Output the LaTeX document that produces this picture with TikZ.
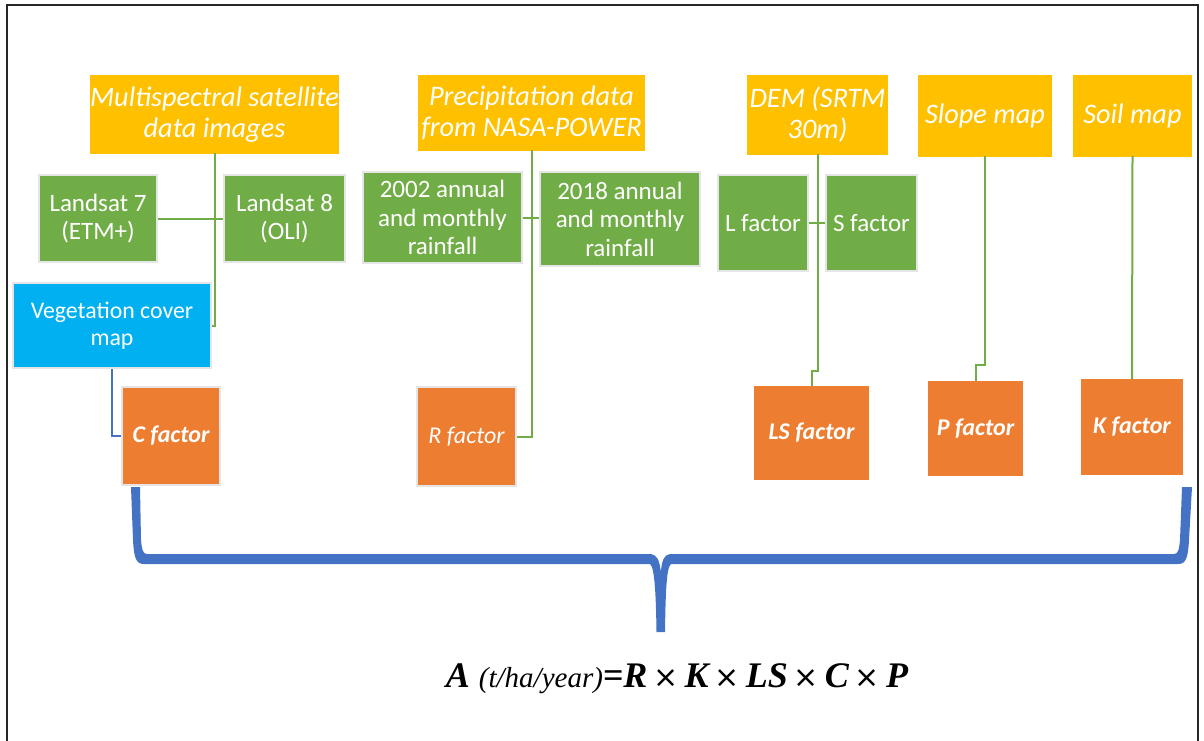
\documentclass[tikz,border=0pt]{standalone}
\usepackage{fontspec}
\setmainfont{Carlito}
\newfontfamily\eqfont{Liberation Serif}
\newfontfamily\tmsfont{DejaVu Sans}
\definecolor{hdr}{HTML}{FFC000}
\definecolor{grn}{HTML}{70AD47}
\definecolor{cyanb}{HTML}{00B0F0}
\definecolor{orf}{HTML}{ED7D31}
\definecolor{brc}{HTML}{4472C4}
\newcommand{\tms}{{\tmsfont\mdseries\upshape\fontsize{30}{30}\selectfont ×}}
\begin{document}
\begin{tikzpicture}[x=1pt,y=-1pt,
  box/.style={rectangle,inner sep=0pt,align=center,text=white,line width=1.5pt},
  hdrbox/.style={box,fill=hdr,draw=white,font=\fontsize{28.3}{31}\selectfont\itshape},
  grnbox/.style={box,fill=grn,draw=black!10,font=\fontsize{25}{28.5}\selectfont},
  vegbox/.style={box,fill=cyanb,draw=black!10,font=\fontsize{23.8}{27}\selectfont},
  facbox/.style={box,fill=orf,draw=black!10,font=\fontsize{24}{27}\selectfont\bfseries\itshape},
  facboxw/.style={facbox,draw=white},
  gline/.style={draw=grn,line width=2pt},
  bline/.style={draw=brc,line width=2pt}]
\useasboundingbox (0,0) rectangle (1204,740);
\draw[line width=2pt,black!85] (7,745) -- (7,5) -- (1198,5) -- (1198,745);
% headers
\node[hdrbox,minimum width=251,minimum height=81] (ms) at (214.5,114.5) {Multispectral satellite\\data images};
\node[hdrbox,minimum width=229,minimum height=78] (pr) at (531.5,113) {Precipitation data\\from NASA-POWER};
\node[hdrbox,minimum width=143,minimum height=82] (dem) at (817.5,115) {DEM (SRTM\\30m)};
\node[hdrbox,minimum width=136,minimum height=84] (sl) at (985,116) {Slope map};
\node[hdrbox,minimum width=121,minimum height=84] (so) at (1132.5,116) {Soil map};
% green
\node[grnbox,minimum width=118,minimum height=87] (l7) at (98,218.5) {Landsat 7\\(ETM+)};
\node[grnbox,minimum width=121,minimum height=87] (l8) at (284.5,218.5) {Landsat 8\\(OLI)};
\node[grnbox,minimum width=159,minimum height=91] (y02) at (442.5,217.5) {2002 annual\\and monthly\\rainfall};
\node[grnbox,minimum width=160,minimum height=94] (y18) at (620,219) {2018 annual\\and monthly\\rainfall};
\node[grnbox,minimum width=90,minimum height=96] (lf) at (763,223) {L factor};
\node[grnbox,minimum width=91,minimum height=96] (sf) at (871.5,223) {S factor};
% vegetation
\node[vegbox,minimum width=198,minimum height=85] (veg) at (112,325.5) {Vegetation cover\\map};
% factors
\node[facbox,minimum width=98,minimum height=98] (cf) at (171,436) {C factor};
\node[facbox,minimum width=99,minimum height=99,font=\fontsize{24}{27}\selectfont\itshape] (rf) at (466.5,436.5) {R factor};
\node[facboxw,minimum width=117,minimum height=96] (ls) at (811.5,433) {LS factor};
\node[facboxw,minimum width=97,minimum height=97] (pf) at (975.5,428.5) {P factor};
\node[facboxw,minimum width=104,minimum height=98] (kf) at (1132,427) {K factor};
% connectors
\draw[gline] ([yshift=3pt]ms.south) |- (veg.east);
\draw[gline] (l7.east) -- (l8.west);
\draw[bline] (veg.south) |- (cf.west);
\draw[gline] ([yshift=3pt]pr.south) |- (rf.east);
\draw[gline] (y02.east) -- (y02.east -| y18.west);
\draw[gline] ([yshift=3pt]dem.south) -- ++(0,217) -| ([yshift=-2pt]ls.north);
\draw[gline] (lf.east) -- (sf.west);
\draw[gline] ([yshift=3pt]sl.south) -- ++(0,209) -| ([yshift=-2pt]pf.north);
\draw[gline] ([yshift=3pt]so.south) -- ([yshift=-2pt]kf.north);
% brace
\fill[brc] (131,487) -- (133,540) .. controls (134,558) and (136,564) .. (144,564)
  -- (650,564) .. controls (655,567) and (656,600) .. (656.5,632) -- (665,632)
  .. controls (665.5,600) and (666,567) .. (671,564) -- (1178,564)
  .. controls (1186,564) and (1188,558) .. (1189,540) -- (1192,487) -- (1182,487)
  -- (1180,540) .. controls (1179,550) and (1178,554) .. (1174,554) -- (670,554)
  .. controls (664,555) and (662,560) .. (660.8,572) .. controls (659.5,560) and (657,555) .. (651,554)
  -- (147,554) .. controls (143,554) and (142,550) .. (141,540) -- (140,487) -- cycle;
% equation
\node[anchor=base,inner sep=0pt] (eq) at (677,687) {\eqfont\fontsize{36}{36}\selectfont\bfseries\itshape A {\mdseries\fontsize{29}{29}\selectfont (t/ha/year)}=R\,\tms\,K\,\tms\,LS\,\tms\,C\,\tms\,P};
\end{tikzpicture}
\end{document}
